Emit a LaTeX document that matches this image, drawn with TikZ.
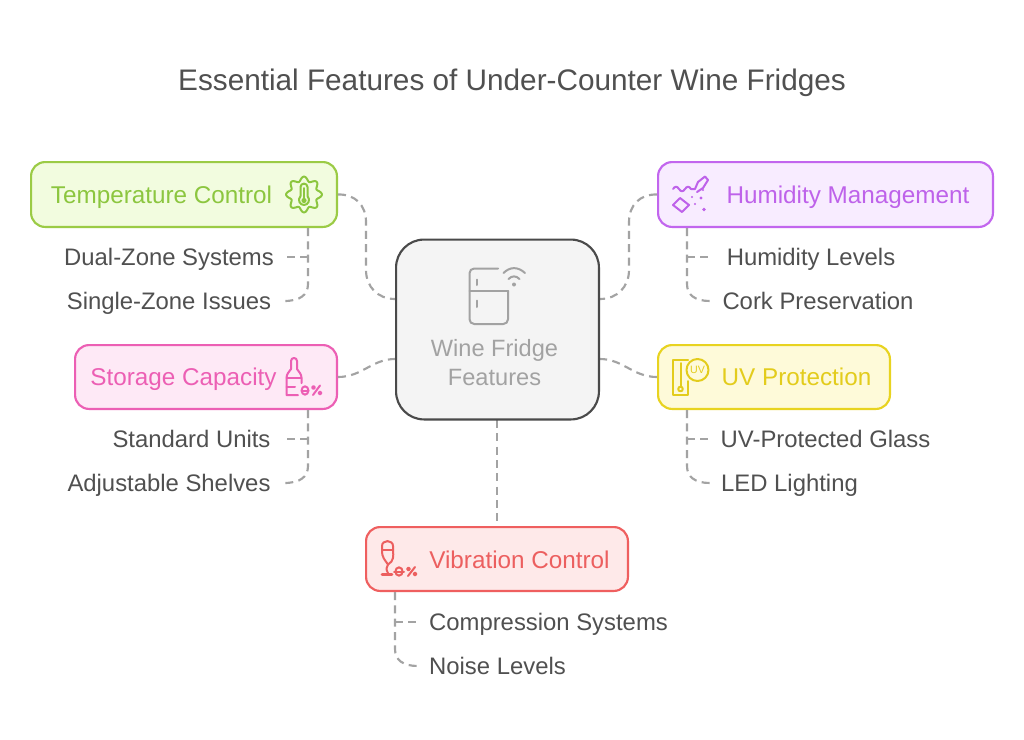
\documentclass[tikz,border=0pt]{standalone}
\usepackage{fontspec}
\setmainfont{Liberation Sans}
\definecolor{txt}{HTML}{505050}
\definecolor{conn}{HTML}{A3A3A3}
\definecolor{gE}{HTML}{9BCB45}\definecolor{gF}{HTML}{F2FCDF}\definecolor{gT}{HTML}{8CC63F}
\definecolor{pE}{HTML}{C266EE}\definecolor{pF}{HTML}{F8ECFF}\definecolor{pT}{HTML}{BE62EA}
\definecolor{kE}{HTML}{EC5FB4}\definecolor{kF}{HTML}{FEE9F6}\definecolor{kT}{HTML}{EC5FB4}
\definecolor{yE}{HTML}{E8D320}\definecolor{yF}{HTML}{FEFAD9}\definecolor{yT}{HTML}{E3CC1C}
\definecolor{rE}{HTML}{EF5F5F}\definecolor{rF}{HTML}{FEE9E9}\definecolor{rT}{HTML}{EC5F5F}
\definecolor{cE}{HTML}{4A4A4A}\definecolor{cF}{HTML}{F4F4F4}\definecolor{cT}{HTML}{A2A2A2}
\tikzset{
  x=0.75pt,y=-0.75pt,
  box/.style={draw=#1E,fill=#1F,line width=1.6pt,rounded corners=10.5pt,inner sep=0pt,anchor=north west},
  head/.style={anchor=base,inner sep=0pt,font=\fontsize{18.2pt}{20pt}\selectfont},
  sub/.style={anchor=base,inner sep=0pt,text=txt,font=\fontsize{17.9pt}{20pt}\selectfont},
  link/.style={draw=conn,line width=1.6pt,dash pattern=on 6pt off 4pt},
  ico/.style={draw=#1,line width=1.5pt,line cap=round,line join=round}
}
\newcommand{\boxat}[6]{\node[box=#6,minimum width=#4*0.75pt-2.35pt,minimum height=#5*0.75pt-2.35pt] (#1) at (#2+1,#3+1) {};}
\begin{document}
\begin{tikzpicture}
\useasboundingbox (0,0) rectangle (1024,739);
\fill[white] (0,0) rectangle (1024,739);
\node[anchor=base,inner sep=0pt,text=txt,font=\fontsize{22.3pt}{26pt}\selectfont] (title) at (512,90.7) {Essential Features of Under-Counter Wine Fridges};

\coordinate (cL1) at (395,299); \coordinate (cL2) at (395,359);
\coordinate (cR1) at (600,299); \coordinate (cR2) at (600,359);
\coordinate (cB) at (497,420);

\boxat{temp}{29}{160}{309}{68}{g}
\boxat{hum}{656}{160}{338}{68}{p}
\boxat{stor}{73}{343}{265}{67}{k}
\boxat{uv}{656}{343}{235}{67}{y}
\boxat{vib}{364}{525}{265}{67}{r}

\draw[link] (temp.east) .. controls (355,194) and (366,205) .. (366,222) -- (366,270) .. controls (366,287) and (378,299) .. (cL1);
\draw[link] (hum.west) .. controls (640,194) and (629,205) .. (629,222) -- (629,270) .. controls (629,287) and (617,299) .. (cR1);
\draw[link] (stor.east) .. controls (362,377) and (372,359) .. (cL2);
\draw[link] (uv.west) .. controls (633,377) and (623,359) .. (cR2);
\draw[link] (cB) -- (vib.north -| cB);

\node[draw=cE,fill=cF,line width=1.6pt,rounded corners=21pt,inner sep=0pt,anchor=north west,minimum width=205*0.75pt-1.6pt,minimum height=182*0.75pt-1.6pt] (hub) at (395,238.5) {};
\node[anchor=base,inner sep=0pt,text=cT,font=\fontsize{17.7pt}{20pt}\selectfont] (hubA) at (494.5,356) {Wine Fridge};
\node[anchor=base,inner sep=0pt,text=cT,font=\fontsize{17.7pt}{20pt}\selectfont] (hubB) at (494.5,385) {Features};

% fridge icon
\draw[ico=cT,rounded corners=3.5pt] (498,268.5) -- (469.5,268.5) -- (469.5,324) -- (508,324) -- (508,291);
\draw[ico=cT] (508,291) -- (469.5,291);
\draw[ico=cT] (477,279.5) -- (477,285);
\draw[ico=cT] (477,300.5) -- (477,307);
\draw[ico=cT] (503.5,273) .. controls (510,266.5) and (518,266.5) .. (525,273);
\draw[ico=cT] (508.5,279) .. controls (512,275.5) and (516,275.5) .. (519.5,279);
\fill[cT] (514,284.5) circle[radius=2];

% labels
\node[head,text=gT] (tempL) at (161.5,203) {Temperature Control};
\node[head,text=pT] (humL) at (848,203) {Humidity Management};
\node[head,text=kT] (storL) at (183.5,385.5) {Storage Capacity};
\node[head,text=yT] (uvL) at (796.5,385.5) {UV Protection};
\node[head,text=rT] (vibL) at (519.5,568) {Vibration Control};

\node[sub] (t1) at (169,265.5) {Dual-Zone Systems};
\node[sub] (t2) at (169,309.5) {Single-Zone Issues};
\node[sub] (s1) at (191.5,447.5) {Standard Units};
\node[sub] (s2) at (169,491.5) {Adjustable Shelves};
\node[sub] (h1) at (811,265.5) {Humidity Levels};
\node[sub] (h2) at (818,309.5) {Cork Preservation};
\node[sub] (u1) at (825.5,447.5) {UV-Protected Glass};
\node[sub] (u2) at (789.5,491.5) {LED Lighting};
\node[sub] (v1) at (548.5,630.5) {Compression Systems};
\node[sub] (v2) at (497.5,674) {Noise Levels};

\coordinate (t1e) at (284,257); \coordinate (t2e) at (284,301);
\coordinate (s1e) at (284,439); \coordinate (s2e) at (284,483);
\coordinate (h1e) at (710,257); \coordinate (h2e) at (710,301);
\coordinate (u1e) at (710,439); \coordinate (u2e) at (710,483);
\coordinate (v1e) at (418,622); \coordinate (v2e) at (418,666);
\coordinate (tS) at (308,228); \coordinate (sS) at (308,410);
\coordinate (hS) at (687,228); \coordinate (uS) at (687,410);
\coordinate (vS) at (395,592);

\draw[link] (tS) -- (308,284) .. controls (308,295) and (300,301) .. (t2e);
\draw[link] (308,257) -- (t1e);
\draw[link] (sS) -- (308,466) .. controls (308,477) and (300,483) .. (s2e);
\draw[link] (308,439) -- (s1e);
\draw[link] (hS) -- (687,284) .. controls (687,295) and (695,301) .. (h2e);
\draw[link] (687,257) -- (h1e);
\draw[link] (uS) -- (687,466) .. controls (687,477) and (695,483) .. (u2e);
\draw[link] (687,439) -- (u1e);
\draw[link] (vS) -- (395,649) .. controls (395,660) and (403,666) .. (v2e);
\draw[link] (395,622) -- (v1e);

% gear icon
\draw[ico=gT] plot[smooth,samples=145,domain=0:360,variable=\a] ({304+(15.7+2.2*cos(8*\a))*cos(\a)},{194.5+(15.7+2.2*cos(8*\a))*sin(\a)}) -- cycle;
\draw[ico=gT] (300.5,196) -- (300.5,187) .. controls (300.5,182.5) and (307.5,182.5) .. (307.5,187) -- (307.5,196) .. controls (311,200) and (308,205) .. (304,205) .. controls (300,205) and (297,200) .. (300.5,196);
\fill[gT] (304,200.5) circle[radius=2.6];
\draw[ico=gT] (304,188) -- (304,199);

% humidity icon
\draw[ico=pT] (673,189) .. controls (675,186) and (677,186) .. (679,189) .. controls (681,192) and (683,192) .. (685,189) .. controls (687,186) and (689,186) .. (691,189) -- (695,189) -- (698,182) -- (705,176.5) -- (708,180) -- (703,188) -- (697,192);
\draw[ico=pT] (680,198) -- (689,205) -- (682,212) -- (673,205) -- cycle;
\fill[pT] (692,197) circle[radius=1.2] (701,198) circle[radius=1.6] (695,204) circle[radius=1.2] (704,209.5) circle[radius=1.8] (703,190) circle[radius=1.2];

% bottle icon
\draw[ico=kT] (291,369) -- (291,361) .. controls (291,357) and (297,357) .. (297,361) -- (297,369) .. controls (299,372) and (301.5,374) .. (301.5,378) -- (301.5,383);
\draw[ico=kT] (291,369) .. controls (289,372) and (286.5,374) .. (286.5,378) -- (286.5,395) -- (298,395);
\draw[ico=kT] (286.5,377.5) -- (301.5,377.5);
\draw[ico=kT] (286.5,387) -- (295,387);
\draw[ico=kT] (305,390.5) ellipse[x radius=3.4,y radius=4.2];
\draw[ico=kT] (301.5,390.5) -- (308.5,390.5);
\draw[ico=kT] (313,395) -- (320,385.5);
\draw[ico=kT] (313.5,387.5) circle[radius=1.5] (320,393) circle[radius=1.5];

% UV icon
\draw[ico=yT] (688,359.5) -- (673,359.5) -- (673,394.5) -- (688,394.5) -- (688,381);
\draw[ico=yT] (680.5,363) -- (680.5,386);
\draw[ico=yT] (680.5,389) circle[radius=2.3];
\draw[ico=yT] (697.5,370) circle[radius=11];
\node[inner sep=0pt,text=yT,font=\fontsize{8pt}{9pt}\selectfont] (uvI) at (697.5,370) {UV};

% glass icon
\draw[ico=rT] (382,550) -- (382,546) .. controls (382,539.5) and (393,539.5) .. (393,546) -- (393,550) .. controls (393.5,556) and (394,561) .. (388,564.5) .. controls (385,560) and (381.5,557) .. (382,550);
\draw[ico=rT] (393,550) -- (382,550);
\draw[ico=rT] (388,564.5) .. controls (386,567) and (386,570) .. (388,573);
\draw[ico=rT,line width=2.2pt] (382,574.5) -- (392,574.5);
\draw[ico=rT] (399,571.5) ellipse[x radius=3.6,y radius=4.2];
\draw[ico=rT] (394,571.5) -- (404,571.5);
\draw[ico=rT] (408,576) -- (415,567);
\draw[ico=rT] (408.5,569) circle[radius=1.5] (415,574) circle[radius=1.5];
\end{tikzpicture}
\end{document}
